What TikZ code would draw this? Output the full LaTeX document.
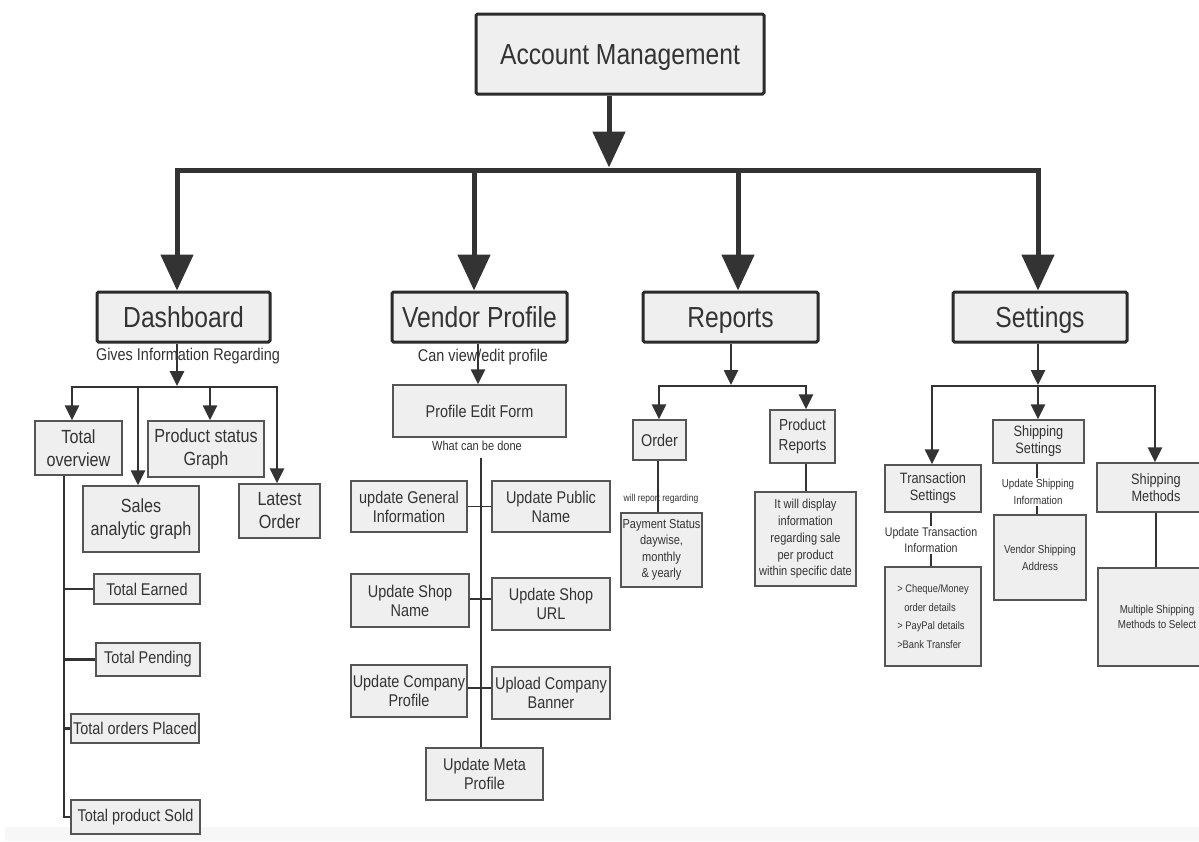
\documentclass[tikz,border=0pt]{standalone}
\usepackage{fontspec}
\setmainfont[FakeStretch=0.85]{Liberation Sans}
\usetikzlibrary{arrows.meta}

\definecolor{ink}{HTML}{333333}
\definecolor{boxfill}{HTML}{EFEFEF}
\definecolor{edge}{HTML}{555555}

\newcommand\fsz[2]{\fontsize{#1}{#2}\selectfont}

\tikzset{
  mainbox/.style={draw=ink!85!black, line width=3pt, fill=boxfill, rounded corners=1.5pt,
    text=ink, inner sep=0pt, text height=24pt, text depth=4pt, font=\fsz{29}{32}},
  subbox/.style={draw=edge, line width=1.3pt, fill=boxfill, text=ink, inner sep=0pt, align=center},
  note/.style={text=ink, inner sep=1pt, align=center},
  bigarrow/.style={line width=5pt, draw=ink, line join=miter, -{Triangle[length=36pt,width=32pt]}},
  midarrow/.style={line width=2.6pt, draw=ink, line join=miter, -{Triangle[length=15pt,width=14pt]}},
  midline/.style={line width=2.4pt, draw=ink},
  link/.style={line width=1.8pt, draw=ink},
}

\begin{document}
\begin{tikzpicture}[x=1pt, y=-1pt]
\useasboundingbox (0,0) rectangle (1199,841);
\clip (0,0) rectangle (1199,841);
\fill[white] (0,0) rectangle (1199,841);
\fill[gray!6] (5,827) rectangle (1199,841);

% ---------- top level ----------
\node[mainbox, minimum width=288, minimum height=80] (am) at (620,54) {Account Management};

\node[mainbox, minimum width=173, minimum height=50] (dash) at (183.5,317) {Dashboard};
\node[mainbox, minimum width=175, minimum height=50] (vp) at (479.5,317) {Vendor Profile};
\node[mainbox, minimum width=175, minimum height=50] (rep) at (730.5,317) {Reports};
\node[mainbox, minimum width=174, minimum height=50] (set) at (1040,317) {Settings};

\coordinate (hub) at (609,170);
\coordinate (barL) at (177,170);
\coordinate (barR) at (1038,170);
\coordinate (barV) at (474,170);
\coordinate (barP) at (738,170);

\draw[bigarrow] (am.south -| hub) -- ([yshift=2.5pt]hub);
\draw[bigarrow] (hub) -- (barL) -- (barL |- dash.north);
\draw[bigarrow] (hub) -- (barR) -- (barR |- set.north);
\draw[bigarrow] (barV) -- (barV |- vp.north);
\draw[bigarrow] (barP) -- (barP |- rep.north);

% ---------- Dashboard ----------
\node[note, font=\fsz{17}{19}] (gir) at (188,356) {Gives Information Regarding};

\node[subbox, font=\fsz{19}{23}, minimum width=87, minimum height=54] (tov) at (78.5,448) {Total\\overview};
\node[subbox, font=\fsz{19}{23}, minimum width=116, minimum height=56] (psg) at (206,449) {Product status\\Graph};
\node[subbox, font=\fsz{19}{23}, minimum width=116, minimum height=66] (sag) at (141,519) {Sales\\analytic graph};
\node[subbox, font=\fsz{19}{23}, minimum width=81, minimum height=54] (lo) at (279.5,511) {Latest\\Order};

\coordinate (dj) at (177,387);
\coordinate (dl) at (72,387);
\coordinate (dr) at (277,387);
\coordinate (dsa) at (138,387);
\coordinate (dpg) at (210,387);

\draw[midarrow] (dash.south -| dj) -- ([yshift=1pt]dj);
\draw[midarrow] (dj) -- (dl) -- (dl |- tov.north);
\draw[midarrow] (dj) -- (dr) -- (dr |- lo.north);
\draw[midarrow] (dsa) -- (dsa |- sag.north);
\draw[midarrow] (dpg) -- (dpg |- psg.north);

\node[subbox, font=\fsz{17}{19}, minimum width=106, minimum height=30] (te) at (147,589) {Total Earned};
\node[subbox, font=\fsz{17}{19}, minimum width=104, minimum height=33] (tp) at (148,659.5) {Total Pending};
\node[subbox, font=\fsz{17}{19}, minimum width=128, minimum height=29] (top) at (135,728.5) {Total orders Placed};
\node[subbox, font=\fsz{17}{19}, minimum width=129, minimum height=34] (tps) at (135.5,817) {Total product Sold};

\coordinate (spine) at (64,475);
\draw[midline] (tov.south -| spine) |- (tps.west);
\draw[midline] (te.west -| spine) -- (te.west);
\draw[midline] (tp.west -| spine) -- (tp.west);
\draw[midline] (top.west -| spine) -- (top.west);

% ---------- Vendor Profile ----------
\node[note, font=\fsz{17}{19}] (cve) at (483,357) {Can view/edit profile};
\node[subbox, font=\fsz{17}{19}, minimum width=173, minimum height=52] (pef) at (479.5,411) {Profile Edit Form};
\coordinate (va) at (478,0);
\draw[midarrow] (vp.south -| va) -- (pef.north -| va);

\node[note, font=\fsz{13}{15}] (wcbd) at (477,446) {What can be done};

\node[subbox, font=\fsz{17}{19}, minimum width=116, minimum height=51] (ugi) at (409,506.5) {update General\\Information};
\node[subbox, font=\fsz{17}{19}, minimum width=118, minimum height=51] (upn) at (551,506.5) {Update Public\\Name};
\node[subbox, font=\fsz{17}{19}, minimum width=118, minimum height=53] (usn) at (410,600.5) {Update Shop\\Name};
\node[subbox, font=\fsz{17}{19}, minimum width=118, minimum height=52] (usu) at (551,604) {Update Shop\\URL};
\node[subbox, font=\fsz{17}{19}, minimum width=116, minimum height=52] (ucp) at (409,691) {Update Company\\Profile};
\node[subbox, font=\fsz{17}{19}, minimum width=118, minimum height=52] (ucb) at (551,693) {Upload Company\\Banner};
\node[subbox, font=\fsz{17}{19}, minimum width=117, minimum height=52] (um) at (484.5,774) {Update Meta\\Profile};

\coordinate (vs) at (481,458);
\draw[link] (vs) -- (vs |- um.north);
\draw[link] (ugi.east) -- (ugi.east -| upn.west);
\draw[link] ([yshift=1.5pt]usn.east) -- ([yshift=1.5pt]usn.east -| usu.west);
\draw[link] ([yshift=3pt]ucp.east) -- ([yshift=3pt]ucp.east -| ucb.west);

% ---------- Reports ----------
\node[subbox, font=\fsz{17}{19}, minimum width=53, minimum height=40] (ord) at (659.5,440) {Order};
\node[subbox, font=\fsz{16}{20}, minimum width=65, minimum height=53] (prr) at (802.5,436.5) {Product\\Reports};

\coordinate (rj) at (731,386);
\coordinate (rl) at (659,386);
\coordinate (rr) at (806,386);
\draw[midarrow] (rep.south -| rj) -- ([yshift=1pt]rj);
\draw[midarrow] (rj) -- (rl) -- (rl |- ord.north);
\draw[midarrow] (rj) -- (rr) -- (rr |- prr.north);

\node[note, font=\fsz{10}{12}] (wrr) at (661,499) {will report regarding};
\node[subbox, font=\fsz{13}{16.5}, minimum width=81, minimum height=74] (pay) at (661.5,550)
  {Payment Status\\daywise,\\monthly\\\& yearly};
\node[subbox, font=\fsz{13}{16.7}, minimum width=101, minimum height=94] (info) at (805.5,539)
  {It will display\\information\\regarding sale\\per product\\within specific date};

\coordinate (ox) at (658,0);
\coordinate (px) at (806,0);
\draw[link] (ord.south -| ox) -- (pay.north -| ox);
\draw[link] (prr.south -| px) -- (info.north -| px);

% ---------- Settings ----------
\node[subbox, font=\fsz{15}{17}, minimum width=96, minimum height=47] (ts) at (933,488.5) {Transaction\\Settings};
\node[subbox, font=\fsz{15}{17}, minimum width=91, minimum height=43] (ss) at (1038.5,441.5) {Shipping\\Settings};
\node[subbox, font=\fsz{15}{17}, minimum width=118, minimum height=49] (sm) at (1156,487.5) {Shipping\\Methods};

\coordinate (sj) at (1038,386);
\coordinate (sl) at (932,386);
\coordinate (sr) at (1155,386);
\draw[midarrow] (set.south -| sj) -- ([yshift=1pt]sj);
\draw[midarrow] (sj) -- (sl) -- (sl |- ts.north);
\draw[midarrow] (sj) -- (sr) -- (sr |- sm.north);
\draw[midarrow] (sj) -- (sj |- ss.north);

\node[note, font=\fsz{12.5}{16}] (utr) at (931,540) {Update Transaction\\Information};
\node[subbox, font=\fsz{11}{18.5}, align=left, minimum width=96, minimum height=99] (tdet) at (933,616.5)
  {> Cheque/Money\\\hspace*{7pt}order details\\> PayPal details\\>Bank Transfer};

\node[note, font=\fsz{11.5}{17}] (usi) at (1038,492) {Update Shipping\\Information};
\node[subbox, font=\fsz{11.5}{17}, minimum width=92, minimum height=85] (vsa) at (1040,557.5) {Vendor Shipping\\Address};
\node[subbox, font=\fsz{11.5}{15.5}, minimum width=118, minimum height=98] (msm) at (1157,617) {Multiple Shipping\\Methods to Select};

\coordinate (tx) at (931,0);
\coordinate (shx) at (1037,0);
\coordinate (smx) at (1156,0);
\draw[link] (ts.south -| tx) -- (utr.north -| tx);
\draw[link] (utr.south -| tx) -- (tdet.north -| tx);
\draw[link] (ss.south -| shx) -- (usi.north -| shx);
\draw[link] (usi.south -| shx) -- (vsa.north -| shx);
\draw[link] (sm.south -| smx) -- (msm.north -| smx);
\end{tikzpicture}
\end{document}
